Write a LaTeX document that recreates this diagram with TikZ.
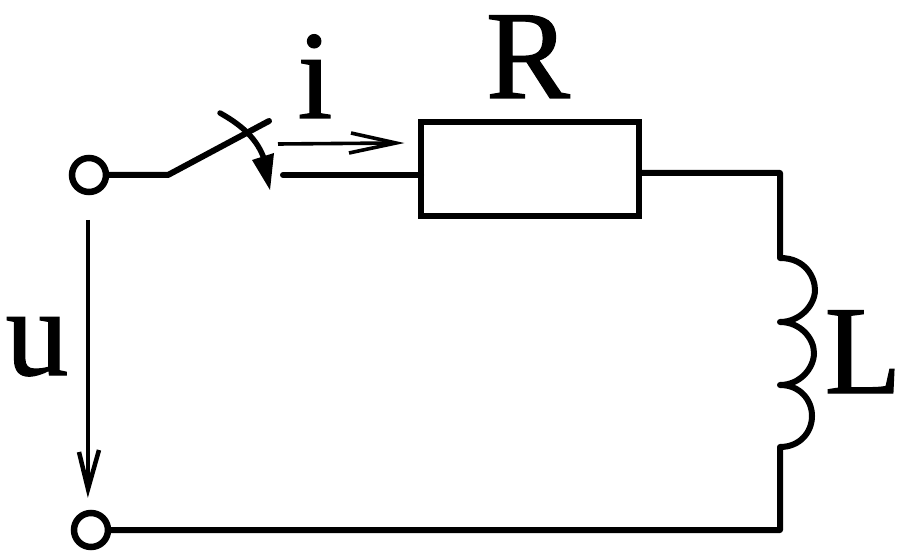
\documentclass[tikz,border=0pt]{standalone}
\usepackage{fontspec}
\setmainfont{Liberation Serif}
\newfontfamily\lblfont[RawFeature={embolden=1}]{Liberation Serif}
\usetikzlibrary{arrows.meta}
\tikzset{
  wire/.style={line width=6pt,line join=round,line cap=round},
  thin wire/.style={line width=3.6pt},
  terminal/.style={circle,draw,line width=6.5pt,minimum size=34pt,inner sep=0pt,outer sep=0pt},
  resistor/.style={rectangle,draw,line width=6.5pt,minimum width=218pt,minimum height=94pt,inner sep=0pt,outer sep=0pt},
  lbl/.style={inner sep=0pt,outer sep=0pt,anchor=base,font=\lblfont\fontsize{126}{126}\selectfont}
}
\begin{document}
\begin{tikzpicture}[x=1pt,y=-1pt]
\useasboundingbox (0,0) rectangle (913,553);
\node[terminal] (top) at (89,175) {};
\node[terminal] (bot) at (91,530) {};
\node[resistor] (R) at (530,169) {};
\coordinate (hinge) at (168,175);
\coordinate (blade) at (269,121);
\coordinate (contact) at (283,175);
\coordinate (corner1) at (780,173);
\coordinate (coilT) at (780,258);
\coordinate (coil1) at (780,322);
\coordinate (coil2) at (780,385);
\coordinate (coilB) at (780,447);
\coordinate (corner2) at (780,530);
% switch
\draw[wire] (top.east) -- (hinge) -- (blade);
\draw[wire] (contact) -- (R.west |- contact);
\draw[wire,line width=5.5pt] (220,113) .. controls (245,127) and (260,142) .. (266,165);
\fill (252,160) -- (274,153) -- (270,190) -- cycle;
% right side and coil
\draw[wire] (R.east |- corner1) -- (corner1) -- (coilT)
  .. controls (806,258) and (815,278) .. (815,290) .. controls (815,305) and (800,322) .. (coil1)
  .. controls (800,322) and (814,338) .. (814,353) .. controls (814,368) and (800,385) .. (coil2)
  .. controls (800,385) and (812,400) .. (812,416) .. controls (812,432) and (800,447) .. (coilB)
  -- (corner2) -- (bot.east |- corner2);
% current arrow
\coordinate (iS) at (278,144);
\coordinate (iE) at (396,143);
\coordinate (iA) at (351,133);
\coordinate (iB) at (349,153);
\draw[thin wire] (iS) -- (iE);
\draw[thin wire,line join=miter] (iA) -- (iE) -- (iB);
% voltage arrow
\coordinate (uS) at (88,220);
\coordinate (uE) at (88,489);
\coordinate (uA) at (79,452);
\coordinate (uB) at (99,450);
\draw[line width=4pt] (uS) -- (uE);
\draw[line width=4.5pt,line join=miter] (uA) -- (uE) -- (uB);
% labels
\node[lbl] (lR) at (528,98) {R};
\node[lbl] (li) at (315,118) {i};
\node[lbl] (lu) at (37,375) {u};
\node[lbl] (lL) at (863,393) {L};
\end{tikzpicture}
\end{document}
